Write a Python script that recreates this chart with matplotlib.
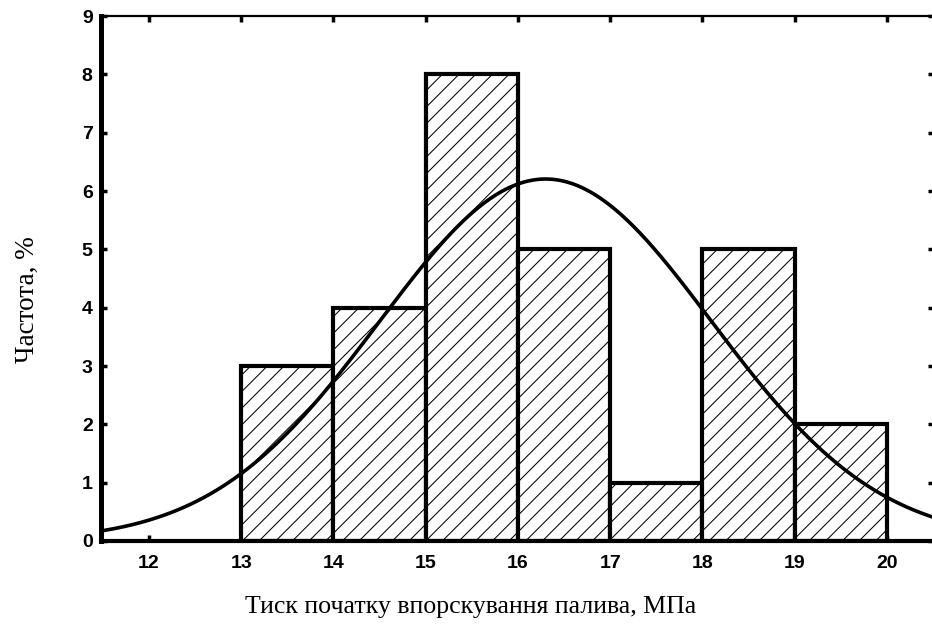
import numpy as np
import matplotlib
matplotlib.use("Agg")
import matplotlib.pyplot as plt

# Histogram data (bin edges in MPa, frequency %)
bin_left = [13, 14, 15, 16, 17, 18, 19]
freq = [3, 4, 8, 5, 1, 5, 2]
bin_width = 1.0
# Fitted normal curve parameters
curve_mean = 16.3
curve_sd = 1.8

x_ticks = [12, 13, 14, 15, 16, 17, 18, 19, 20]
y_ticks = [0, 1, 2, 3, 4, 5, 6, 7, 8, 9]

plt.rcParams['hatch.linewidth'] = 0.75

fig = plt.figure(figsize=(9.32, 6.26), dpi=100)
ax = fig.add_axes([0.1084, 0.1358, 0.8916 + 0.002, 0.8386])

ax.bar(bin_left, freq, width=bin_width, align='edge', facecolor='white',
       edgecolor='black', linewidth=3.0, hatch='//', zorder=2)

xs = np.linspace(11.4, 20.6, 400)
total = sum(freq) * bin_width
ys = total / (curve_sd * np.sqrt(2 * np.pi)) * np.exp(-0.5 * ((xs - curve_mean) / curve_sd) ** 2)
ax.plot(xs, ys, color='black', linewidth=2.6, zorder=3)

ax.set_xlim(11.48, 20.51)
ax.set_ylim(0, 9)
ax.set_xticks(x_ticks)
ax.set_yticks(y_ticks)

tick_font = dict(family='Liberation Sans', weight='bold', size=14)
ax.set_xticklabels([str(t) for t in x_ticks], fontdict=tick_font)
ax.set_yticklabels([str(t) for t in y_ticks], fontdict=tick_font)

ax.tick_params(direction='in', length=4, width=2.5, top=True, right=True,
               labeltop=False, labelright=False)
ax.tick_params(axis='x', pad=10)
ax.tick_params(axis='y', pad=6)

ax.spines['left'].set_linewidth(3.6)
ax.spines['bottom'].set_linewidth(3.0)
ax.spines['top'].set_linewidth(1.6)
ax.spines['right'].set_visible(False)

ax.set_xlabel('Тиск початку впорскування палива, МПа', family='Liberation Serif',
              size=18.6, va='center')
ax.set_ylabel('Частота, %', family='Liberation Serif', size=19.5, va='center')
ax.xaxis.set_label_coords(0.444, -0.126)
ax.yaxis.set_label_coords(-0.089, 0.459)

fig.savefig('out.png', dpi=100)
